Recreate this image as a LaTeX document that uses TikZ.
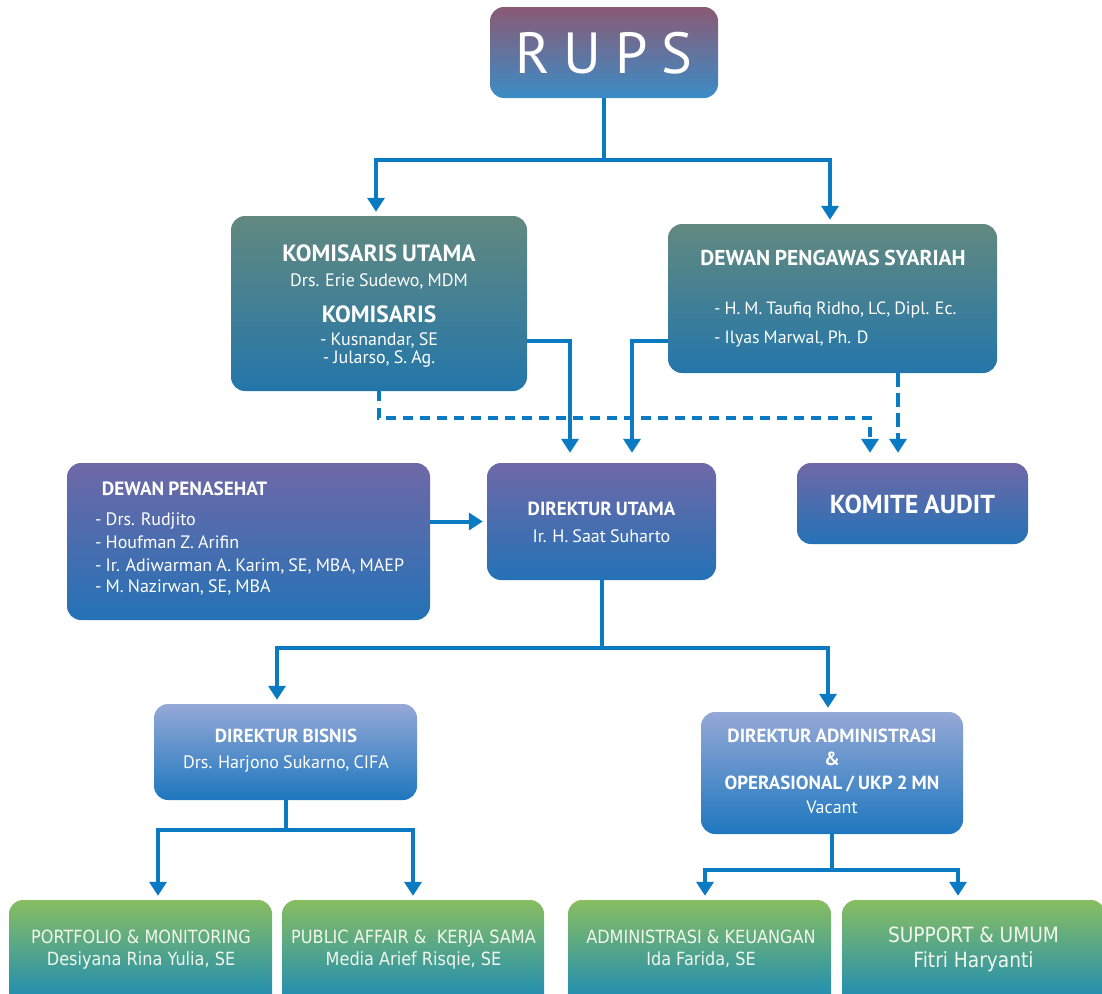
\documentclass[tikz,border=0pt]{standalone}
\usepackage{fontspec}
\setmainfont[WordSpace=0.85]{PT Sans}
\newfontfamily\greenfont[FakeStretch=0.885]{DejaVu Sans}
\usetikzlibrary{arrows.meta}
\definecolor{lineblue}{HTML}{0A7BC2}
\definecolor{rupsTop}{HTML}{8A5A74}
\definecolor{rupsBot}{HTML}{3C8CC6}
\definecolor{tealTop}{HTML}{62897F}
\definecolor{tealBot}{HTML}{2376AA}
\definecolor{purpTop}{HTML}{6F68A7}
\definecolor{purpBot}{HTML}{2472B6}
\definecolor{lbTop}{HTML}{95A8D6}
\definecolor{lbBot}{HTML}{1E77BF}
\definecolor{grTop}{HTML}{88BE60}
\definecolor{grBot}{HTML}{0A82C5}
\definecolor{grText}{HTML}{F2F6EC}
\tikzset{
  boxbase/.style={rectangle, rounded corners=14pt, draw=none, inner sep=0pt},
  rupsbox/.style={boxbase, top color=rupsTop, bottom color=rupsBot},
  tealbox/.style={boxbase, top color=tealTop, bottom color=tealBot},
  purpbox/.style={boxbase, top color=purpTop, bottom color=purpBot},
  lbbox/.style={boxbase, top color=lbTop, bottom color=lbBot},
  grbox/.style={boxbase, top color=grTop, bottom color=grBot},
  txt/.style={text=white, inner sep=0pt, anchor=base},
  ltxt/.style={text=white, inner sep=0pt, anchor=base west},
  gtxt/.style={text=grText, inner sep=0pt, anchor=base, font=\greenfont},
  conn/.style={draw=lineblue, line width=4pt},
  arr/.style={conn, -{Triangle[width=17pt,length=14pt]}, shorten >=4pt},
  arrfar/.style={arr, shorten >=10pt},
  dotl/.style={conn, dash pattern=on 10pt off 7pt, -{Triangle[width=17pt,length=14pt]}, shorten >=10pt},
  dashl/.style={conn, dash pattern=on 14pt off 6pt, -{Triangle[width=17pt,length=14pt]}, shorten >=10pt},
}
\newcommand{\fs}[1]{\fontsize{#1}{#1}\selectfont}
\begin{document}
\begin{tikzpicture}[x=1pt,y=-1pt]
\useasboundingbox (0,0) rectangle (1102,993);
\clip (0,0) rectangle (1102,993);

% boxes
\node[rupsbox, minimum width=228pt, minimum height=91pt] (rups) at (604,52.5) {};
\node[tealbox, minimum width=296pt, minimum height=175pt] (kom) at (379,303.5) {};
\node[tealbox, minimum width=329pt, minimum height=149pt] (dps) at (832.5,298.5) {};
\node[purpbox, minimum width=363pt, minimum height=157pt] (dp) at (248.5,541.5) {};
\node[purpbox, minimum width=229pt, minimum height=117pt] (du) at (601.5,521.5) {};
\node[purpbox, minimum width=231pt, minimum height=81pt] (ka) at (912.5,503.5) {};
\node[lbbox, minimum width=263pt, minimum height=96pt] (db) at (285.5,752) {};
\node[lbbox, minimum width=262pt, minimum height=122pt] (da) at (832,773) {};
\node[grbox, minimum width=263pt, minimum height=120pt] (g1) at (140.5,960) {};
\node[grbox, minimum width=262pt, minimum height=120pt] (g2) at (413,960) {};
\node[grbox, minimum width=263pt, minimum height=120pt] (g3) at (699.5,960) {};
\node[grbox, minimum width=263pt, minimum height=120pt] (g4) at (973.5,960) {};

% texts
\node[txt] (rupsT) at (604,73.3) {\fs{58}R\kern14pt U\kern14pt P\kern14pt S};

\node[txt] (komT1) at (379,261.7) {\fs{23.5}\bfseries KOMISARIS UTAMA};
\node[txt] (komT2) at (379,286) {\fs{18}Drs. Erie Sudewo, MDM};
\node[txt] (komT3) at (379,322.7) {\fs{23.5}\bfseries KOMISARIS};
\node[txt] (komT4) at (379,345) {\fs{18}- Kusnandar, SE};
\node[txt] (komT5) at (379,363) {\fs{18}- Jularso, S. Ag.};

\node[txt] (dpsT1) at (833,265) {\fs{21.5}\bfseries DEWAN PENGAWAS SYARIAH};
\node[ltxt] (dpsT2) at (714,314.3) {\fs{17.8}- H. M. Taufiq Ridho, LC, Dipl. Ec.};
\node[ltxt] (dpsT3) at (714,343.3) {\fs{17.8}- Ilyas Marwal, Ph. D};

\node[ltxt] (dpT1) at (101.7,495) {\fs{19.2}\bfseries DEWAN PENASEHAT};
\node[ltxt] (dpT2) at (95,525.7) {\fs{18}- Drs. Rudjito};
\node[ltxt] (dpT3) at (95,548.3) {\fs{18}- Houfman Z. Arifin};
\node[ltxt] (dpT4) at (95,571) {\fs{18}- Ir. Adiwarman A. Karim, SE, MBA, MAEP};
\node[ltxt] (dpT5) at (95,592.3) {\fs{18}- M. Nazirwan, SE, MBA};

\node[txt] (duT1) at (601.5,515) {\fs{19}\bfseries DIREKTUR UTAMA};
\node[txt] (duT2) at (601.5,542.3) {\fs{18}Ir. H. Saat Suharto};

\node[txt] (kaT1) at (912.5,513.3) {\fs{26}\bfseries KOMITE AUDIT};

\node[txt] (dbT1) at (286,742.7) {\fs{18.9}\bfseries DIREKTUR BISNIS};
\node[txt] (dbT2) at (286,768.3) {\fs{18}Drs. Harjono Sukarno, CIFA};

\node[txt] (daT1) at (832,742.7) {\fs{19}\bfseries DIREKTUR ADMINISTRASI};
\node[txt] (daT2) at (832,765) {\fs{19}\bfseries \&};
\node[txt] (daT3) at (832,789) {\fs{19}\bfseries OPERASIONAL / UKP 2 MN};
\node[txt] (daT4) at (832,813.3) {\fs{18}Vacant};

\node[gtxt] (g1T1) at (141,943.3) {\fs{18.2}PORTFOLIO \& MONITORING};
\node[gtxt] (g1T2) at (141,965) {\fs{18.2}Desiyana Rina Yulia, SE};
\node[gtxt] (g2T1) at (413.5,943.3) {\fs{18.2}PUBLIC AFFAIR \&\ \ KERJA SAMA};
\node[gtxt] (g2T2) at (413.5,965) {\fs{18.2}Media Arief Risqie, SE};
\node[gtxt] (g3T1) at (701,943.3) {\fs{18.2}ADMINISTRASI \& KEUANGAN};
\node[gtxt] (g3T2) at (701,965) {\fs{18.2}Ida Farida, SE};
\node[gtxt] (g4T1) at (973.5,942.3) {\fs{21}SUPPORT \& UMUM};
\node[gtxt] (g4T2) at (973.5,967) {\fs{21}Fitri Haryanti};

% connectors
\path (rups.south) ++(0,62) coordinate (j1);
\draw[conn] (rups.south) -- (j1);
\draw[arr] (j1) -| ([xshift=-3pt]kom.north);
\draw[arr] (j1) -| ([xshift=-2.5pt]dps.north);

\draw[arrfar] ([yshift=-37.5pt]kom.east) -| ([xshift=-31.5pt]du.north);
\draw[arrfar] ([yshift=-42.5pt]dps.west) -| ([xshift=30.5pt]du.north);

\draw[dotl] (kom.south) -- ++(0,27) -| ([xshift=-42.5pt]ka.north);
\draw[dashl] ([xshift=65.5pt]dps.south) -- ([xshift=-14.5pt]ka.north);

\draw[arr] (dp.east |- du.west) -- (du.west);

\path (du.south) ++(0,68) coordinate (j2);
\draw[conn] (du.south) -- (j2);
\draw[arr] (j2) -| ([xshift=-8.5pt]db.north);
\draw[arr] (j2) -| ([xshift=-4pt]da.north);

\path (db.south) ++(0,30) coordinate (j3);
\draw[conn] (db.south) -- (j3);
\draw[arr] (j3) -| ([xshift=17.5pt]g1.north);
\draw[arr] (j3) -| (g2.north);

\path (da.south) ++(0,36) coordinate (j4);
\draw[conn] (da.south) -- (j4);
\draw[arr] (j4) -| ([xshift=5.5pt]g3.north);
\draw[arr] (j4) -| ([xshift=-15.5pt]g4.north);
\end{tikzpicture}
\end{document}
